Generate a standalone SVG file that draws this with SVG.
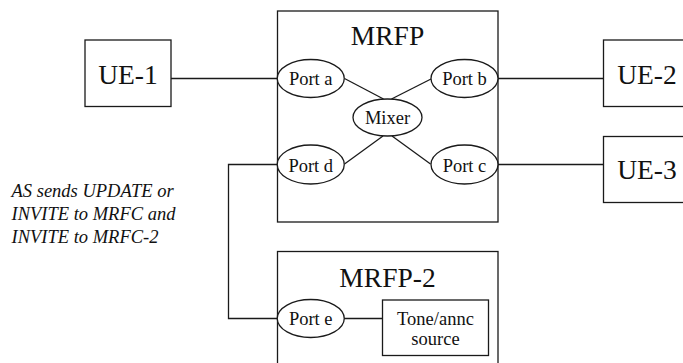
<svg xmlns="http://www.w3.org/2000/svg" width="683" height="363" viewBox="0 0 683 363">
  <style>
    .box { fill: #ffffff; stroke: #1a1a1a; stroke-width: 1.3; }
    .port { fill: #ffffff; stroke: #1a1a1a; stroke-width: 1.3; }
    .wire { fill: none; stroke: #1a1a1a; stroke-width: 1.3; }
    .big { font-size: 27.5px; text-anchor: middle; }
    .small { font-size: 18.5px; text-anchor: middle; }
    .note { font-size: 18.5px; font-style: italic; }
  </style>
  <rect width="683" height="363" fill="#ffffff"/>

  <g font-family="Liberation Serif, Times New Roman, DejaVu Serif, serif" fill="#111111">
  <!-- container boxes -->
  <g id="mrfp">
    <rect class="box" x="277.5" y="11" width="220.5" height="211"/>
    <text class="big" x="387.5" y="45">MRFP</text>
  </g>
  <g id="mrfp-2">
    <rect class="box" x="277.5" y="251.5" width="220.5" height="130"/>
    <text class="big" x="387.5" y="286.5">MRFP-2</text>
  </g>

  <!-- connectors -->
  <g id="connectors">
    <line class="wire" x1="171" y1="78.5" x2="277" y2="78.5"/>
    <line class="wire" x1="498" y1="78.5" x2="603.5" y2="78.5"/>
    <line class="wire" x1="498" y1="164.5" x2="603.5" y2="164.5"/>
    <line class="wire" x1="344.5" y1="78.5" x2="383.5" y2="99"/>
    <line class="wire" x1="391.5" y1="99" x2="431" y2="79"/>
    <line class="wire" x1="383" y1="136" x2="344.5" y2="164"/>
    <line class="wire" x1="392" y1="136" x2="430.5" y2="164"/>
    <path class="wire" d="M277,164.5 H228.5 V318.5 H277"/>
    <line class="wire" x1="344" y1="318.5" x2="382.5" y2="318.5"/>
  </g>

  <!-- end points -->
  <g id="ue-1">
    <rect class="box" x="85" y="40" width="86" height="66.5"/>
    <text class="big" x="128" y="83.5">UE-1</text>
  </g>
  <g id="ue-2">
    <rect class="box" x="603.5" y="40" width="87" height="66.5"/>
    <text class="big" x="647" y="83.5">UE-2</text>
  </g>
  <g id="ue-3">
    <rect class="box" x="603.5" y="136.5" width="87" height="66"/>
    <text class="big" x="647" y="178.5">UE-3</text>
  </g>

  <!-- ports of MRFP -->
  <g id="port-a">
    <ellipse class="port" cx="310.75" cy="78.5" rx="33.5" ry="19"/>
    <text class="small" x="310.75" y="84.5">Port a</text>
  </g>
  <g id="port-b">
    <ellipse class="port" cx="464.5" cy="78.5" rx="33.5" ry="19"/>
    <text class="small" x="464.5" y="84.5">Port b</text>
  </g>
  <g id="mixer">
    <ellipse class="port" cx="387.5" cy="117.5" rx="34.5" ry="18.5"/>
    <text class="small" x="387.5" y="124">Mixer</text>
  </g>
  <g id="port-d">
    <ellipse class="port" cx="310.75" cy="164.5" rx="33.5" ry="19.5"/>
    <text class="small" x="310.75" y="171.5">Port d</text>
  </g>
  <g id="port-c">
    <ellipse class="port" cx="464.5" cy="164.5" rx="33.5" ry="19.5"/>
    <text class="small" x="464.5" y="171.5">Port c</text>
  </g>

  <!-- ports of MRFP-2 -->
  <g id="port-e">
    <ellipse class="port" cx="310.75" cy="318.5" rx="33.5" ry="19"/>
    <text class="small" x="310.75" y="325">Port e</text>
  </g>
  <g id="tone-source">
    <rect class="box" x="382.5" y="300" width="106" height="55.5"/>
    <text class="small" x="435.5" y="325">Tone/annc</text>
    <text class="small" x="435.5" y="345">source</text>
  </g>

  <!-- signalling note -->
  <g id="note">
    <text class="note" x="11.5" y="197">AS sends UPDATE or</text>
    <text class="note" x="11.5" y="220">INVITE to MRFC and</text>
    <text class="note" x="11.5" y="243">INVITE to MRFC-2</text>
  </g>
  </g>
</svg>
